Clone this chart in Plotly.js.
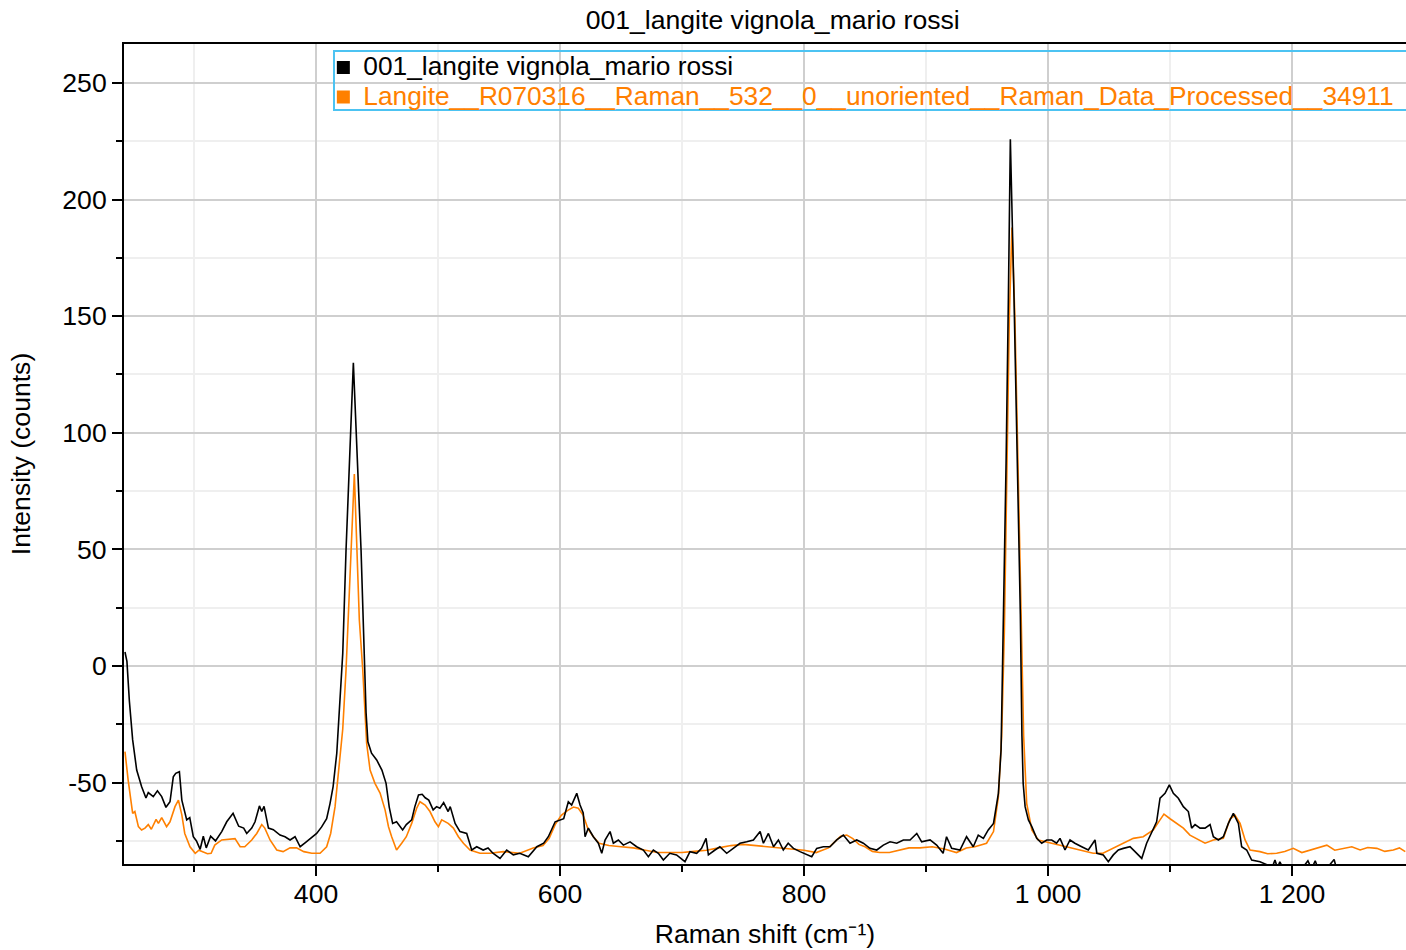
<!DOCTYPE html>
<html>
<head>
<meta charset="utf-8">
<script src="https://cdn.plot.ly/plotly-3.0.1.min.js"></script>
<style>html,body{margin:0;padding:0;background:#fff}#chart{width:1406px;height:950px}</style>
</head>
<body>
<div id="chart"></div>
<script>
var chartTitle = "001_langite vignola_mario rossi";
var seriesNames = ["001_langite vignola_mario rossi", "Langite__R070316__Raman__532__0__unoriented__Raman_Data_Processed__34911"];
var xTitle = "Raman shift (cm⁻¹)";
var yTitle = "Intensity (counts)";
var yTickVals = [-50, 0, 50, 100, 150, 200, 250];
var yTickText = ["-50", "0", "50", "100", "150", "200", "250"];

var sampleX = [243.4,245,247,249.7,253,257,260.6,262.5,266.6,270,273.5,277,280.3,283,285,288,290,294,296.5,299.4,302,305,307.6,310,313.6,317.6,322.7,326.8,332,336.6,340.7,343.2,347.3,350,353.6,355.5,357.4,361,365,370.5,374.6,378.7,382.8,387,391,395,400.5,404.6,408.7,411.5,414,417,419.7,421.9,424.6,430.6,436.9,439,441,442.5,445.5,449.7,454,457.4,460,462.8,466,471,474,478.4,481,484,487,489.5,492.4,496,498.8,501.5,504.6,508.3,510,514,518,523.5,527.6,531.7,537,541,545,550.8,556.3,561.7,567,574,577,581,586.6,590.4,596,600,603,606.8,609.5,613.7,616.4,619,620.5,623.2,627.3,631.4,634.2,636.9,641,643.7,647.8,651.9,657.4,662.8,668.3,672.4,676.5,680.6,684.7,690,695.5,702.4,706.5,712,716,719.7,721.6,727,731,736.6,742,747.5,753,758.5,764,766.7,770.8,775,779,783,787,791.3,796.7,802.2,806.3,810.4,815.8,821.3,826.8,832.2,837.7,843.2,848.6,854,859.6,865,870.5,876,881.4,886.9,892.4,896.4,903.3,908.7,914,916.8,921,927.8,933.2,938.7,942.8,947,951,955.3,959.3,961.5,963.4,965.6,967.5,969.1,972.1,974.8,977.3,978.6,979.6,981.2,983.9,986.7,990.7,994.8,998.9,1003,1007,1009.8,1013.9,1018,1022,1027.6,1033,1038.5,1040,1045.3,1049.4,1053.5,1057.6,1061.7,1067.2,1071.3,1076.8,1080.8,1085,1089,1091.8,1095.9,1099.4,1102.7,1106.8,1110.9,1115,1117.7,1120.5,1124.6,1128.7,1132.8,1135.5,1139.6,1143.7,1147.8,1151.9,1156,1158.7,1162.8,1166.9,1173.7,1180.6,1184,1186,1188,1190,1193,1200,1208,1213,1216,1219,1222,1228,1234.5,1237,1245,1255,1265,1275,1285,1293];
var sampleY = [6,2,-15,-31.7,-44.6,-51.7,-56.6,-54.3,-56,-53.5,-56,-60.6,-58.2,-47.5,-46,-45.3,-57.5,-66,-65,-73.2,-75,-78.6,-73,-78,-73,-75,-71,-66.8,-63.2,-68.7,-69.5,-71.8,-69.5,-66.8,-60,-62.4,-60.2,-69.5,-70.2,-72.5,-73.2,-74.6,-73.2,-77.5,-75.8,-74,-71.8,-69,-65.5,-58.9,-51.7,-37.4,-15.9,5.4,49.7,130,49.7,10,-20,-32.5,-37.4,-40.3,-44.6,-50.3,-60.5,-67.5,-66.8,-70.3,-68,-66,-60.3,-55.3,-55,-56.5,-57.5,-61.7,-60.3,-61,-58.6,-62.4,-60.3,-67.5,-71,-71.8,-78.9,-77.5,-78.9,-78,-80.3,-82.5,-78.9,-81,-80.3,-81.8,-80,-77.5,-76,-73.2,-66.8,-66,-65.5,-58.2,-59.6,-54.6,-59.6,-63,-73.2,-69.5,-73.2,-76,-80.3,-74.6,-71,-76,-74.6,-76.8,-75.4,-77.5,-78.9,-81.8,-78.9,-80.3,-83.2,-80.3,-81,-83.9,-79.6,-80.3,-78.2,-73.9,-81,-78.9,-77.5,-80.3,-78.2,-76,-75.4,-74.6,-71,-76,-71.8,-77.5,-74.6,-78.9,-76,-78.2,-79.6,-81,-81.8,-78.2,-77.5,-77.5,-74.6,-72.5,-76,-74.6,-76,-78.2,-78.9,-76.8,-75.4,-76,-74.6,-74.6,-71.8,-75.4,-74.6,-76.8,-80.3,-73.2,-78.2,-78.9,-73.2,-77.5,-72.5,-73.9,-70.3,-67.5,-54.6,-36,15,86.9,158,225.9,158,86.9,22,-30,-50.3,-60.3,-66,-68.9,-73.9,-76,-74.6,-74.6,-76,-73.9,-78.9,-74.6,-76,-77.5,-78.9,-74.6,-80.3,-81,-83.9,-81,-78.9,-78.2,-77.5,-79.6,-82.5,-76,-71,-66.8,-56.7,-54.6,-51,-54.6,-56.7,-60.3,-62.4,-69.5,-68,-69.5,-69.5,-68,-73.2,-74.6,-73.2,-67.5,-63.2,-67.5,-77.5,-78.9,-83.2,-83.9,-85.5,-86,-83.2,-86.5,-84,-87,-88,-87,-83.5,-87,-83.5,-88,-87,-83,-88,-89,-88,-90,-89,-90,-89];

var refX = [243.4,246,249.7,251.5,254.4,257,259.8,262.5,265,268.9,270.8,273.5,277.5,280.3,284.4,287.2,290,292.4,296.7,301,304,307.6,311,314,317,322.7,328,333.6,337.8,341.6,347.3,351.4,355.5,358,362.3,367.8,373,378.7,384,390,396.5,403.3,408.7,412,415.6,419.7,421.9,424.6,431.4,435.5,438.3,441.5,444.3,448.3,452.5,456.6,459.4,462,466,470.2,474,478.4,482.5,485.2,489.4,493.4,497.5,500.3,503,508.3,512.6,516.7,520.8,526.2,534.4,542.6,553.5,567,578,586,591,596,601,606,611,615,619,623,627,632,640,650,660,670,680,690,700,710,720,730,740,750,760,770,780,790,800,810,820,826,830,835,840,845,850,856,862,870,878,886,895,905,915,925,933,940,949.6,955.3,959.3,962,964.2,966.4,968.3,970.4,972.8,975.4,977.8,980,982.5,986.7,992,1004,1015,1026,1037,1045,1053.5,1061.7,1069.9,1078,1086.3,1091.8,1095,1100,1105.4,1110.9,1116.3,1121.8,1128.7,1135.5,1143.7,1149.2,1153.2,1157.4,1161.5,1165.6,1173.7,1180,1187.4,1194,1201,1208,1214.8,1221,1228.5,1235,1242,1249,1255.8,1262,1269.5,1276,1283,1288,1292.8];
var refY = [-36.7,-48.9,-63.2,-62.4,-68.9,-70.3,-69.5,-68,-70,-65.8,-67.5,-65,-68.9,-66.8,-60.3,-57.5,-63.8,-71.8,-77.5,-80.3,-79,-79.6,-80.5,-80.3,-76.8,-74.6,-74.3,-74,-77.5,-77.5,-74.6,-71.8,-68,-69.5,-74.6,-78.9,-79.6,-78,-78,-79.6,-80.3,-80.3,-77.5,-71.8,-60.3,-37.4,-27,-1.7,82.3,19.7,-1.7,-33.2,-44.6,-50.3,-54.5,-61.7,-68.9,-73.2,-78.9,-76,-73.2,-67.5,-61,-58.2,-59.6,-62.4,-66.8,-68.9,-66,-67.5,-69.5,-73.2,-76,-78.9,-80.3,-80.3,-79.6,-80.3,-78,-77,-74,-68,-64,-62,-60.5,-61,-64,-70,-73,-76,-77,-77.5,-78,-79,-80,-80,-80,-79.5,-79,-78,-77,-76.5,-77,-77.5,-78,-78.5,-79,-80,-78,-75,-73,-72.5,-74,-76.5,-77.5,-79.5,-80,-80,-79,-78,-78,-77.5,-78.5,-80,-78,-77.5,-76,-71,-56,-30,15,86,150,188,150,86,25,-30,-58.9,-70.3,-74.6,-76,-77.5,-78.9,-80.3,-80.3,-78.2,-76,-73.9,-73.2,-70.3,-66,-63.5,-65.5,-67.5,-69.5,-72.5,-73.9,-76,-74.6,-73.9,-65.5,-64,-67.5,-74.6,-78.9,-79.6,-80.5,-80.3,-79.5,-78.2,-80,-78.9,-78,-76.8,-79,-78.2,-77.5,-78.9,-77.8,-78.2,-79.5,-78.9,-78,-79.6];

var xRange = [242.6, 1293.4];
var yRange = [-84.9, 266.7];

var FONT = "Liberation Sans, Arial, sans-serif";
var FS = 26.6;
var LFS = 26.3;
function legendName(txt, color) {
  return '<span style="font-size:' + LFS + 'px;color:' + color + '">' + txt + '</span>';
}
var traces = [
  {x: refX, y: refY, type: "scatter", mode: "lines", line: {color: "#ff8000", width: 1.6}, showlegend: false, hoverinfo: "skip"},
  {x: sampleX, y: sampleY, type: "scatter", mode: "lines", line: {color: "#000000", width: 1.6}, showlegend: false, hoverinfo: "skip"},
  {x: [null], y: [null], type: "scatter", mode: "markers", name: legendName(seriesNames[0], "#000000"), marker: {symbol: "square", color: "#000000", size: 13}},
  {x: [null], y: [null], type: "scatter", mode: "markers", name: legendName(seriesNames[1], "#ff8000"), marker: {symbol: "square", color: "#ff8000", size: 13}}
];

var axisCommon = {
  showline: true, linecolor: "#000", linewidth: 2, mirror: true,
  ticks: "outside", ticklen: 10, tickwidth: 2, tickcolor: "#000",
  showgrid: true, gridcolor: "#cfcfcf", gridwidth: 2,
  zeroline: false,
  tickfont: {family: FONT, size: FS, color: "#000"}
};

var layout = {
  width: 1406, height: 950,
  margin: {l: 124, r: 0, t: 44, b: 86, autoexpand: false},
  paper_bgcolor: "#fff", plot_bgcolor: "#fff",
  separators: ". ",
  font: {family: FONT, size: FS, color: "#000"},
  title: {text: chartTitle, x: 0.506, xref: "paper", xanchor: "center", y: 0.979, yref: "container", yanchor: "middle", font: {family: FONT, size: FS, color: "#000"}},
  xaxis: Object.assign({}, axisCommon, {
    range: xRange, dtick: 200, tick0: 0, separatethousands: true,
    ticklabelstandoff: -5,
    minor: {dtick: 100, ticks: "outside", ticklen: 6, tickwidth: 2, tickcolor: "#000", showgrid: true, gridcolor: "#efefef", gridwidth: 2},
    title: {text: xTitle, font: {family: FONT, size: FS, color: "#000"}, standoff: 16}
  }),
  yaxis: Object.assign({}, axisCommon, {
    range: yRange, tickmode: "array", tickvals: yTickVals, ticktext: yTickText,
    minor: {tickmode: "linear", tick0: 0, dtick: 25, ticks: "outside", ticklen: 6, tickwidth: 2, tickcolor: "#000", showgrid: true, gridcolor: "#efefef", gridwidth: 2},
    title: {text: yTitle, font: {family: FONT, size: FS, color: "#000"}, standoff: 24}
  }),
  legend: {
    x: 0.1555, y: 0.9956, xanchor: "left", yanchor: "top",
    bgcolor: "rgba(0,0,0,0)", borderwidth: 0,
    font: {family: FONT, size: 20.5, color: "#000"},
    itemwidth: 30, tracegroupgap: 0
  },
  shapes: [
    {type: "rect", xref: "paper", yref: "paper", x0: 0.1638, x1: 1.05, y0: 0.9195, y1: 0.9915, line: {color: "#4cc3f2", width: 2}, fillcolor: "rgba(0,0,0,0)", layer: "above"}
  ],
  showlegend: true
};

Plotly.newPlot("chart", traces, layout, {staticPlot: true, displayModeBar: false});
</script>
</body>
</html>
